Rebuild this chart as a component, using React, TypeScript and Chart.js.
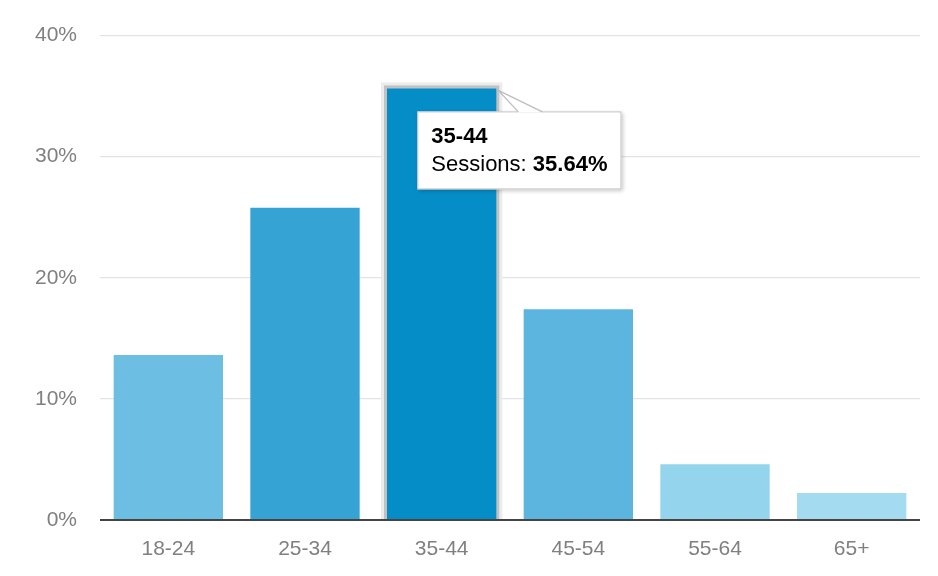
import React, { useEffect, useRef } from "react";
import { Chart, registerables } from "chart.js";

Chart.register(...registerables);

const ageGroups = ["18-24", "25-34", "35-44", "45-54", "55-64", "65+"];
const sessionShare = [13.63, 25.79, 35.64, 17.41, 4.6, 2.22];
const barColors = ["#6cbee3", "#35a3d4", "#058dc7", "#5cb5de", "#95d4ed", "#a4dbf0"];
const yTicks = [0, 10, 20, 30, 40];
const activeIndex = 2;
const seriesName = "Sessions";

const FONT = "'Liberation Sans', Arial, sans-serif";

// hovered bar outline + GA style tooltip
const hoverTooltip = {
  id: "hoverTooltip",
  beforeDatasetsDraw(chart: any) {
    const el = chart.getDatasetMeta(0).data[activeIndex];
    if (!el) return;
    const { x, y, base, width } = el.getProps(["x", "y", "base", "width"], true);
    const ctx = chart.ctx;
    const l = x - width / 2;
    ctx.save();
    ctx.fillStyle = "#ececec";
    ctx.fillRect(l - 6, y - 6, width + 12, base - y + 6);
    ctx.fillStyle = "#c2c2c2";
    ctx.fillRect(l - 3, y - 3, width + 6, base - y + 3);
    ctx.restore();
  },
  afterDatasetsDraw(chart: any) {
    const el = chart.getDatasetMeta(0).data[activeIndex];
    if (!el) return;
    const { x, y, width } = el.getProps(["x", "y", "width"], true);
    const ctx = chart.ctx;
    const title = ageGroups[activeIndex];
    const label = seriesName + ": ";
    const value = sessionShare[activeIndex].toFixed(2) + "%";

    ctx.save();
    ctx.font = "22px " + FONT;
    const w1 = ctx.measureText(label).width;
    ctx.font = "bold 22px " + FONT;
    const w2 = ctx.measureText(value).width;
    const boxW = w1 + w2 + 28;
    const boxH = 78;
    const cornerX = x + width / 2;
    const boxX = cornerX - 79;
    const boxY = y + 23;

    // shadow + box
    ctx.shadowColor = "rgba(0,0,0,0.22)";
    ctx.shadowBlur = 4;
    ctx.shadowOffsetX = 2;
    ctx.shadowOffsetY = 2;
    ctx.fillStyle = "#fff";
    ctx.fillRect(boxX, boxY, boxW, boxH);
    ctx.shadowColor = "transparent";
    ctx.strokeStyle = "#c4c4c4";
    ctx.lineWidth = 1;
    ctx.strokeRect(boxX + 0.5, boxY + 0.5, boxW - 1, boxH - 1);

    // pointer
    ctx.beginPath();
    ctx.moveTo(boxX + 101, boxY + 1);
    ctx.lineTo(cornerX + 2, y + 2);
    ctx.lineTo(boxX + 125, boxY + 1);
    ctx.closePath();
    ctx.fillStyle = "#fff";
    ctx.fill();
    ctx.beginPath();
    ctx.moveTo(boxX + 101, boxY + 0.5);
    ctx.lineTo(cornerX + 2, y + 2);
    ctx.lineTo(boxX + 125, boxY + 0.5);
    ctx.strokeStyle = "#bdbdbd";
    ctx.lineWidth = 1.3;
    ctx.stroke();

    // text
    ctx.fillStyle = "#000";
    ctx.textBaseline = "alphabetic";
    ctx.textAlign = "left";
    ctx.font = "bold 22px " + FONT;
    ctx.fillText(title, boxX + 14, boxY + 32);
    ctx.font = "22px " + FONT;
    ctx.fillText(label, boxX + 14, boxY + 60);
    ctx.font = "bold 22px " + FONT;
    ctx.fillText(value, boxX + 14 + w1, boxY + 60);
    ctx.restore();
  },
};

const App: React.FC = () => {
  const canvasRef = useRef<HTMLCanvasElement>(null);
  const chartRef = useRef<Chart | null>(null);

  useEffect(() => {
    if (!canvasRef.current) return;
    if (chartRef.current) chartRef.current.destroy();

    chartRef.current = new Chart(canvasRef.current, {
      type: "bar",
      data: {
        labels: ageGroups,
        datasets: [
          {
            label: seriesName,
            data: sessionShare,
            backgroundColor: barColors,
            barPercentage: 0.8,
            categoryPercentage: 1,
          },
        ],
      },
      options: {
        responsive: false,
        animation: false,
        events: [],
        layout: { padding: { top: 33, right: 18, left: 0, bottom: 0 } },
        plugins: {
          legend: { display: false },
          tooltip: { enabled: false },
        },
        scales: {
          x: {
            grid: { display: false },
            border: { display: false },
            ticks: {
              color: "#808080",
              font: { family: FONT, size: 21 },
              padding: 9,
              maxRotation: 0,
            },
            afterFit: (scale: any) => {
              scale.height = 56;
            },
          },
          y: {
            min: 0,
            max: 40,
            afterBuildTicks: (scale: any) => {
              scale.ticks = yTicks.map((v) => ({ value: v }));
            },
            grid: {
              drawTicks: false,
              color: (c: any) => (c.tick && c.tick.value === 0 ? "#444" : "#e3e3e3"),
              lineWidth: (c: any) => (c.tick && c.tick.value === 0 ? 2 : 1.3),
            },
            border: { display: false },
            ticks: {
              color: "#808080",
              font: { family: FONT, size: 21 },
              padding: 23,
              callback: (v: any) => v + "%",
            },
            afterFit: (scale: any) => {
              scale.width = 100;
            },
          },
        },
      },
      plugins: [hoverTooltip],
    });

    return () => {
      if (chartRef.current) {
        chartRef.current.destroy();
        chartRef.current = null;
      }
    };
  }, []);

  return (
    <div style={{ position: "fixed", left: 0, top: 0, width: 938, height: 576, background: "#fff" }}>
      <canvas ref={canvasRef} width={938} height={576} />
    </div>
  );
};

export default App;
